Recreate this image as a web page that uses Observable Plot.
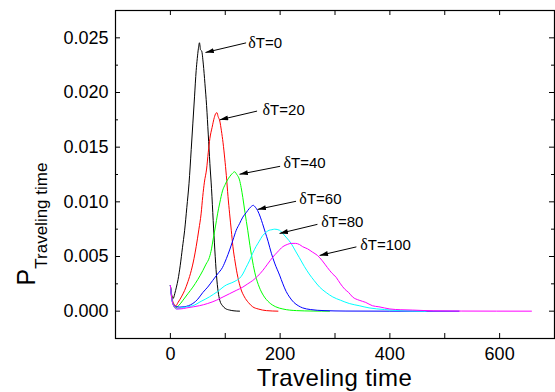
<!DOCTYPE html>
<html><head><meta charset="utf-8">
<script src="https://cdn.jsdelivr.net/npm/d3@7"></script>
<script src="https://cdn.jsdelivr.net/npm/@observablehq/plot@0.6"></script>
<style>body{margin:0;background:#fff}#chart{width:555px;height:392px}</style>
</head><body><div id="chart"></div><script>
// Series data: [traveling time, probability]
const curve0 = [[0,0.00235],[2,0.0016],[5,0.00115],[8,0.0016],[11,0.0022],[14,0.0029],[18,0.0042],[22,0.0058],[26,0.0074],[30,0.0095],[34,0.0117],[38,0.0148],[41,0.0172],[44,0.0196],[47,0.0220],[49,0.0231],[51,0.0240],[53,0.02455],[55,0.0239],[57,0.0238],[60,0.0226],[63,0.0208],[66,0.0188],[69,0.0162],[72,0.0135],[75,0.0112],[78,0.0083],[81,0.0056],[84,0.0033],[87,0.0018],[90,0.0010],[95,0.0005],[100,0.00025],[108,0.0001],[116,0.00003],[126,0]];
const curve20 = [[0,0.00235],[3,0.0012],[6,0.0007],[10,0.0005],[14,0.0008],[20,0.0013],[26,0.0019],[32,0.0027],[38,0.0037],[43,0.0048],[47,0.0059],[52,0.0075],[56,0.0089],[59,0.0105],[62,0.0118],[66,0.0130],[69,0.0145],[72,0.0158],[76,0.0168],[80,0.0177],[83,0.0181],[85,0.01815],[87,0.0178],[90,0.0174],[93,0.0165],[96,0.0154],[99,0.0140],[102,0.0124],[105,0.0105],[108,0.0089],[111,0.0074],[114,0.0059],[118,0.0045],[123,0.0031],[128,0.0021],[135,0.0013],[142,0.0008],[150,0.0004],[160,0.0002],[175,0.00005],[196,0]];
const curve40 = [[0,0.00235],[3,0.0011],[6,0.0005],[9,0.0003],[15,0.0005],[23,0.001],[32,0.0016],[41,0.0022],[50,0.0029],[59,0.0037],[65,0.0043],[71,0.0049],[75,0.0057],[78,0.0066],[82,0.0077],[86,0.0089],[90,0.0099],[95,0.0110],[100,0.0116],[104,0.0120],[108,0.0123],[113,0.0126],[117,0.01275],[121,0.0125],[126,0.0120],[129,0.0113],[132,0.0104],[136,0.0090],[141,0.0074],[145,0.0060],[150,0.0045],[155,0.0033],[162,0.0022],[170,0.0014],[180,0.0008],[192,0.0004],[205,0.0002],[230,0.00005],[260,0.00001],[290,0]];
const curve60 = [[0,0.00235],[3,0.001],[7,0.0005],[12,0.0004],[17,0.00037],[25,0.0004],[33,0.0005],[41,0.0007],[50,0.0011],[59,0.0017],[68,0.0022],[77,0.0028],[86,0.0034],[95,0.0040],[102,0.0048],[108,0.0056],[114,0.0065],[120,0.0074],[126,0.0080],[132,0.0086],[138,0.0090],[144,0.0094],[148,0.0096],[151,0.00968],[155,0.0095],[159,0.0092],[164,0.0086],[168,0.0080],[173,0.0072],[178,0.0064],[184,0.0053],[190,0.0044],[199,0.0033],[205,0.0025],[211,0.0018],[217,0.0013],[225,0.0008],[233,0.0005],[241,0.0003],[255,0.00015],[280,0.00005],[320,0.00001],[400,0],[526,0]];
const curve80 = [[0,0.00235],[3,0.0010],[7,0.0004],[11,0.0002],[20,0.0003],[30,0.0004],[41,0.0005],[56,0.0009],[71,0.0013],[86,0.0018],[102,0.0024],[112,0.0026],[120,0.0028],[126,0.0030],[132,0.0034],[138,0.0040],[144,0.0046],[150,0.0053],[156,0.0059],[162,0.0064],[168,0.0069],[174,0.0072],[180,0.0074],[185,0.00745],[190,0.0075],[199,0.0074],[205,0.0071],[212,0.0067],[220,0.0062],[228,0.0055],[235,0.0049],[244,0.0041],[253,0.0034],[262,0.0028],[272,0.0022],[284,0.0017],[296,0.0013],[310,0.0010],[326,0.0007],[344,0.0005],[362,0.0003],[390,0.00015],[420,0.00005],[466,0]];
const curve100 = [[0,0.00235],[3,0.001],[7,0.0004],[12,0.0002],[17,0.0002],[30,0.0003],[42,0.0004],[53,0.0005],[68,0.0007],[84,0.0010],[96,0.0013],[108,0.0016],[120,0.0019],[132,0.0022],[141,0.0025],[150,0.0028],[159,0.0032],[168,0.0037],[177,0.0043],[186,0.0049],[195,0.0054],[205,0.0059],[213,0.0061],[220,0.0062],[228,0.0062],[235,0.0061],[241,0.0059],[250,0.0057],[259,0.0054],[268,0.0051],[277,0.0046],[286,0.0040],[294,0.0035],[302,0.0031],[310,0.0025],[318,0.0020],[325,0.0017],[332,0.0013],[344,0.0010],[356,0.0008],[368,0.0005],[380,0.0004],[400,0.0002],[420,0.00013],[441,0.0001],[480,0.00003],[530,0.00001],[658,0]];

const seriesCurves = [curve0, curve20, curve40, curve60, curve80, curve100];
const seriesColors = ["#000000","#ff0000","#00ff00","#0000ff","#00ffff","#ff00ff"];

// Annotations
const labels = ["δT=0","δT=20","δT=40","δT=60","δT=80","δT=100"];
const labelX = [142,168,206,235,275,346];
const labelY = [0.0245,0.0184,0.0135,0.0102,0.0081,0.0060];
const arrowX1 = [138,158,200,229,268,339];
const arrowY1 = [0.02454,0.0183,0.01325,0.01005,0.00794,0.00588];
const arrowX2 = [64,90,126,159,199,272];
const arrowY2 = [0.02366,0.0175,0.01252,0.00931,0.00711,0.0051];

// Ticks
const xTickLabels = [0,200,400,600];
const xTicksAll = [0,100,200,300,400,500,600];
const yTickLabels = [0,0.005,0.010,0.015,0.020,0.025];
const yMinor = [-0.0025,0.0025,0.0075,0.0125,0.0175,0.0225];

const W = 555, H = 392, mL = 115, mR = 1, mT = 10, mB = 54;
const fw = W - mL - mR, fh = H - mT - mB;

const annotations = labels.map((t,i)=>({t, x:labelX[i], y:labelY[i], x1:arrowX1[i], y1:arrowY1[i], x2:arrowX2[i], y2:arrowY2[i]}));

const plot = Plot.plot({
  width: W, height: H, marginLeft: mL, marginRight: mR, marginTop: mT, marginBottom: mB,
  style: {fontFamily: "'Liberation Sans', Arial, sans-serif", background: "#fff", color: "#000"},
  x: {domain: [-100, 700]},
  y: {domain: [-0.0025, 0.0275]},
  marks: [
    Plot.tickX(xTicksAll, {x: d=>d, insetTop: fh - 5, stroke: "#000"}),
    Plot.tickX(xTicksAll, {x: d=>d, insetBottom: fh - 5, stroke: "#000"}),
    Plot.tickY(yTickLabels, {y: d=>d, insetRight: fw - 5, stroke: "#000"}),
    Plot.tickY(yTickLabels, {y: d=>d, insetLeft: fw - 5, stroke: "#000"}),
    Plot.tickY(yMinor, {y: d=>d, insetRight: fw - 3, stroke: "#000"}),
    Plot.tickY(yMinor, {y: d=>d, insetLeft: fw - 3, stroke: "#000"}),
    Plot.axisX({ticks: xTickLabels, tickSize: 0, tickPadding: 9, fontSize: 18, label: null, tickFormat: d3.format("d")}),
    Plot.axisY({ticks: yTickLabels, tickSize: 0, tickPadding: 7, fontSize: 18, label: null, tickFormat: d3.format(".3f")}),
    ...seriesCurves.map((c,i)=>Plot.line(c, {x: d=>d[0], y: d=>d[1], stroke: seriesColors[i], strokeWidth: 1, curve: "monotone-x"})),
    Plot.link(annotations, {x1: "x1", y1: "y1", x2: "x2", y2: "y2", stroke: "#000", strokeWidth: 1}),
    Plot.text(annotations, {x: "x", y: "y", text: "t", textAnchor: "start", fontSize: 15, fill: "#000"}),
    Plot.frame({stroke: "#000", strokeWidth: 1.2})
  ]
});

const svg = d3.select(plot);
const defs = svg.append("defs");
defs.append("marker").attr("id","ah").attr("viewBox","0 0 10 6").attr("refX",10).attr("refY",3)
  .attr("markerWidth",9).attr("markerHeight",5).attr("markerUnits","userSpaceOnUse").attr("orient","auto")
  .append("path").attr("d","M0,0L10,3L0,6z").attr("fill","#000");
svg.selectAll('g[aria-label="link"] path').attr("marker-end","url(#ah)");

// Serif delta in annotation labels
svg.selectAll('g[aria-label="text"] text').each(function() {
  const el = d3.select(this);
  const s = el.text();
  if (s.startsWith("δ")) {
    el.text(null);
    el.append("tspan").attr("font-family","'Liberation Serif', 'Times New Roman', serif").attr("font-size",16).text("δ");
    el.append("tspan").text(s.slice(1));
  }
});

// Axis titles
svg.append("text").attr("x", mL + fw/2).attr("y", 386).attr("text-anchor","middle")
  .attr("font-size", 24).attr("letter-spacing", 0.4).attr("fill","#000").text("Traveling time");
const yl = svg.append("text").attr("transform","translate(35,224) rotate(-90)").attr("fill","#000");
yl.append("tspan").attr("font-size",25).text("P");
yl.append("tspan").attr("font-size",17).attr("dy",12).text("Traveling time");

document.getElementById("chart").appendChild(plot);
</script></body></html>
